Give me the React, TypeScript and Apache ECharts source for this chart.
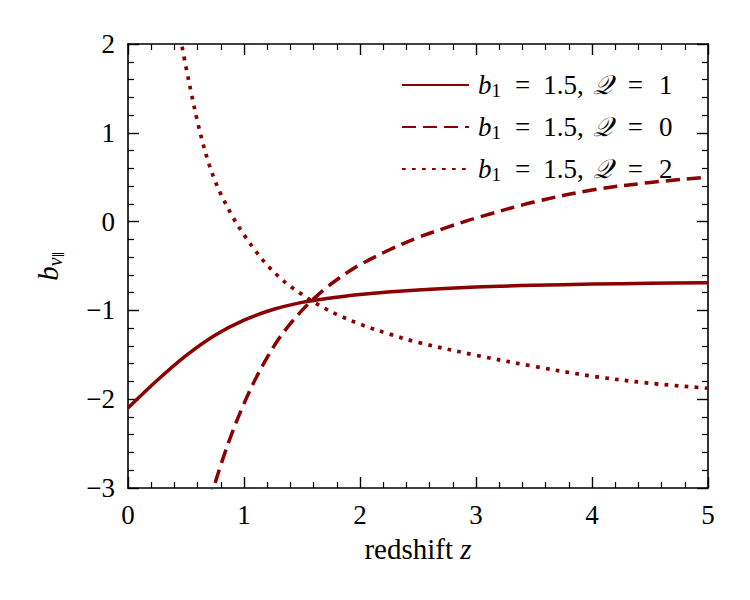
import React, { useEffect, useRef } from "react";
import * as echarts from "echarts";

// Q = 1 (solid)
const zSolid = [0, 0.25, 0.5, 0.75, 1.0, 1.25, 1.5, 1.75, 2.0, 2.5, 3.0, 3.5, 4.0, 4.5, 5.0];
const bSolid = [-2.10, -1.79, -1.51, -1.28, -1.11, -0.99, -0.91, -0.86, -0.82, -0.77, -0.737, -0.717, -0.704, -0.695, -0.688];

// Q = 0 (dashed)
const zDashed = [0.7, 0.75, 0.8, 0.9, 1.0, 1.1, 1.2, 1.3, 1.4, 1.5, 1.6, 1.7, 1.8, 1.9, 2.0, 2.25, 2.5, 2.75, 3.0, 3.5, 4.0, 4.5, 5.0];
const bDashed = [-3.17, -2.95, -2.74, -2.37, -2.05, -1.77, -1.53, -1.32, -1.15, -1.00, -0.87, -0.755, -0.655, -0.565, -0.485, -0.32, -0.18, -0.065, 0.04, 0.22, 0.355, 0.44, 0.50];

// Q = 2 (dotted)
const zDotted = [0.45, 0.5, 0.55, 0.6, 0.65, 0.7, 0.75, 0.8, 0.9, 1.0, 1.1, 1.2, 1.3, 1.4, 1.5, 1.6, 1.7, 1.8, 2.0, 2.25, 2.5, 3.0, 3.5, 4.0, 4.5, 5.0];
const bDotted = [2.08, 1.74, 1.42, 1.12, 0.86, 0.64, 0.46, 0.31, 0.06, -0.15, -0.33, -0.49, -0.62, -0.73, -0.82, -0.905, -0.98, -1.045, -1.155, -1.265, -1.36, -1.505, -1.63, -1.74, -1.82, -1.877];

const seriesNames = ["b₁ = 1.5, 𝒬 = 1", "b₁ = 1.5, 𝒬 = 0", "b₁ = 1.5, 𝒬 = 2"];
const qValues = ["1", "0", "2"];

const xTicks = [0, 1, 2, 3, 4, 5];
const yTicks = [-3, -2, -1, 0, 1, 2];

const RED = "#8b0000";
const FONT = "'Liberation Serif', 'DejaVu Serif', serif";
const FS = 27;

export default function App() {
  const ref = useRef<HTMLDivElement>(null);
  useEffect(() => {
    if (!ref.current) return;
    const chart = echarts.init(ref.current, null, { renderer: "svg" });
    const pairs = (xs: number[], ys: number[]) => xs.map((x, i) => [x, ys[i]]);
    const axisCommon = {
      type: "value" as const,
      axisLine: { show: true, onZero: false, lineStyle: { color: "#000", width: 1.6 } },
      axisTick: { show: true, inside: true, length: 11, lineStyle: { color: "#000", width: 1.4 } },
      minorTick: { show: true, splitNumber: 5, length: 6, lineStyle: { color: "#000", width: 1.2 } },
      splitLine: { show: false },
      minorSplitLine: { show: false },
    };
    const fmt = (v: number) => String(v).replace("-", "\u2212");
    const LH = 32;
    chart.setOption({
      animation: false,
      backgroundColor: "#fff",
      grid: { left: 128, top: 44, right: 42, bottom: 112 },
      legend: {
        orient: "vertical",
        left: 401,
        top: 69,
        padding: 0,
        itemWidth: 67,
        itemHeight: 14,
        itemGap: 10,
        data: seriesNames,
        itemStyle: { color: "rgba(0,0,0,0)", borderColor: "rgba(0,0,0,0)", borderWidth: 0 },
        formatter: (name: string) => {
          const q = qValues[seriesNames.indexOf(name)];
          return `{g|}{i|b}{s|1}{e|=}{t|1.5,}{w|}{q|𝒬}{f|=}{t|${q}}`;
        },
        textStyle: {
          fontFamily: FONT,
          fontSize: FS,
          color: "#000",
          lineHeight: LH,
          rich: {
            g: { width: 4, lineHeight: LH },
            w: { width: 9, lineHeight: LH },
            i: { fontFamily: FONT, fontSize: FS, fontStyle: "italic", color: "#000", lineHeight: LH },
            s: { fontFamily: FONT, fontSize: 19, color: "#000", padding: [10, 0, 0, 0], lineHeight: LH },
            t: { fontFamily: FONT, fontSize: FS, color: "#000", lineHeight: LH },
            e: { fontFamily: FONT, fontSize: FS, color: "#000", padding: [0, 13, 0, 14], lineHeight: LH },
            f: { fontFamily: FONT, fontSize: FS, color: "#000", padding: [0, 16, 0, 16], lineHeight: LH },
            q: { fontFamily: FONT, fontSize: FS, fontStyle: "italic", color: "#000", lineHeight: LH },
          },
        },
      },
      xAxis: [
        {
          ...axisCommon,
          min: 0,
          max: 5,
          interval: 1,
          position: "bottom",
          name: "{t|redshift }{i|z}",
          nameLocation: "middle",
          nameGap: 46,
          nameTextStyle: {
            rich: {
              t: { fontFamily: FONT, fontSize: 29, color: "#000" },
              i: { fontFamily: FONT, fontSize: 29, fontStyle: "italic", color: "#000" },
            },
          },
          axisLabel: {
            show: true,
            margin: 13,
            fontFamily: FONT,
            fontSize: FS,
            color: "#000",
            formatter: (v: number) => (xTicks.includes(v) ? fmt(v) : ""),
          },
        },
        { ...axisCommon, min: 0, max: 5, interval: 1, position: "top", axisLabel: { show: false } },
      ],
      yAxis: [
        {
          ...axisCommon,
          min: -3,
          max: 2,
          interval: 1,
          position: "left",
          name: "{i|b}{s|v}{ss|∥}",
          nameLocation: "middle",
          nameGap: 62,
          nameRotate: 90,
          nameTextStyle: {
            rich: {
              i: { fontFamily: FONT, fontSize: 29, fontStyle: "italic", color: "#000", lineHeight: 36 },
              s: { fontFamily: FONT, fontSize: 20, fontStyle: "italic", color: "#000", padding: [13, 0, 0, 0], lineHeight: 36 },
              ss: { fontFamily: FONT, fontSize: 13, color: "#000", padding: [20, 0, 0, 0], lineHeight: 36 },
            },
          },
          axisLabel: {
            show: true,
            margin: 13,
            fontFamily: FONT,
            fontSize: FS,
            color: "#000",
            formatter: (v: number) => (yTicks.includes(v) ? fmt(v) : ""),
          },
        },
        { ...axisCommon, min: -3, max: 2, interval: 1, position: "right", axisLabel: { show: false } },
      ],
      series: [
        {
          name: seriesNames[0],
          type: "line",
          data: pairs(zSolid, bSolid),
          smooth: 0.35,
          showSymbol: false,
          symbol: "none",
          clip: true,
          lineStyle: { color: RED, width: 3.5, type: "solid" },
          itemStyle: { color: RED },
        },
        {
          name: seriesNames[1],
          type: "line",
          data: pairs(zDashed, bDashed),
          smooth: 0.35,
          showSymbol: false,
          symbol: "none",
          clip: true,
          lineStyle: { color: RED, width: 3.5, type: [14, 7], cap: "butt" },
          itemStyle: { color: RED },
        },
        {
          name: seriesNames[2],
          type: "line",
          data: pairs(zDotted, bDotted),
          smooth: 0.35,
          showSymbol: false,
          symbol: "none",
          clip: true,
          lineStyle: { color: RED, width: 3.7, type: [3.7, 6.3], cap: "butt" },
          itemStyle: { color: RED },
        },
      ],
    });
    return () => chart.dispose();
  }, []);
  return (
    <div
      ref={ref}
      style={{ position: "fixed", left: 0, top: 0, width: 750, height: 600, background: "#fff" }}
    />
  );
}
